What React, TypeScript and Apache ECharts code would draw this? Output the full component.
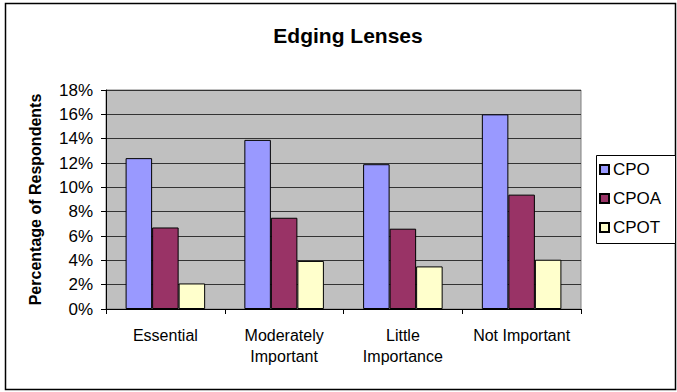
import React, { useEffect, useRef } from "react";
import * as echarts from "echarts";

const categories = ["Essential", "Moderately\nImportant", "Little\nImportance", "Not Important"];
const seriesNames = ["CPO", "CPOA", "CPOT"];
const cpo = [12.4, 13.9, 11.9, 16.0];
const cpoa = [6.7, 7.5, 6.6, 9.4];
const cpot = [2.1, 3.95, 3.5, 4.05];
const colors = ["#9999FF", "#993366", "#FFFFCC"];
const yTicks = { min: 0, max: 18, interval: 2 };

export default function App() {
  const ref = useRef<HTMLDivElement>(null);
  useEffect(() => {
    const chart = echarts.init(ref.current!, null, { renderer: "svg" });
    const font = "Liberation Sans, Arial, sans-serif";
    const data = [cpo, cpoa, cpot];
    chart.setOption({
      animation: false,
      textStyle: { fontFamily: font },
      title: {
        text: "Edging Lenses",
        left: 343,
        top: 20,
        textAlign: "center",
        textStyle: { fontSize: 21, fontWeight: "bold", color: "#000", fontFamily: font },
      },
      graphic: [
        {
          type: "rect",
          shape: { x: 5.5, y: 3.5, width: 670, height: 386 },
          style: { fill: "none", stroke: "#000", lineWidth: 1.5 },
          silent: true,
          z: -1,
        },
        {
          type: "rect",
          shape: { x: 596.5, y: 155.5, width: 79, height: 88 },
          style: { fill: "#fff", stroke: "#000", lineWidth: 1 },
          silent: true,
          z: 0,
        },
      ],
      legend: {
        orient: "vertical",
        left: 599,
        top: 161,
        data: seriesNames,
        icon: "rect",
        itemWidth: 9,
        itemHeight: 9,
        itemGap: 12,
        padding: 0,
        z: 5,
        textStyle: { fontSize: 17, color: "#000", fontFamily: font, padding: [0, 0, 0, -1] },
      },
      grid: {
        left: 106,
        top: 90,
        right: 96,
        bottom: 83,
        show: true,
        backgroundColor: "#C0C0C0",
        borderColor: "#808080",
        borderWidth: 1,
      },
      xAxis: {
        type: "category",
        data: categories,
        axisLine: { lineStyle: { color: "#000", width: 1 } },
        axisTick: { show: true, length: 5, lineStyle: { color: "#000" } },
        axisLabel: { fontSize: 16, color: "#000", margin: 16, lineHeight: 21, interval: 0, fontFamily: font },
      },
      yAxis: {
        type: "value",
        min: yTicks.min,
        max: yTicks.max,
        interval: yTicks.interval,
        name: "Percentage of Respondents",
        nameLocation: "middle",
        nameGap: 63,
        nameTextStyle: { fontSize: 16, fontWeight: "bold", color: "#000", fontFamily: font },
        axisLine: { show: true, lineStyle: { color: "#000", width: 1 } },
        axisTick: { show: true, length: 5, lineStyle: { color: "#000" } },
        axisLabel: { fontSize: 17, color: "#000", margin: 13, formatter: "{value}%", fontFamily: font },
        splitLine: { show: true, lineStyle: { color: "#333", width: 1 } },
      },
      series: seriesNames.map((name, i) => ({
        name,
        type: "bar",
        data: data[i],
        barGap: "0%",
        barCategoryGap: "33%",
        itemStyle: { color: colors[i], borderColor: "#000", borderWidth: 1 },
      })),
    });
    return () => chart.dispose();
  }, []);
  return <div ref={ref} style={{ position: "absolute", left: 0, top: 0, width: 677, height: 392 }} />;
}
